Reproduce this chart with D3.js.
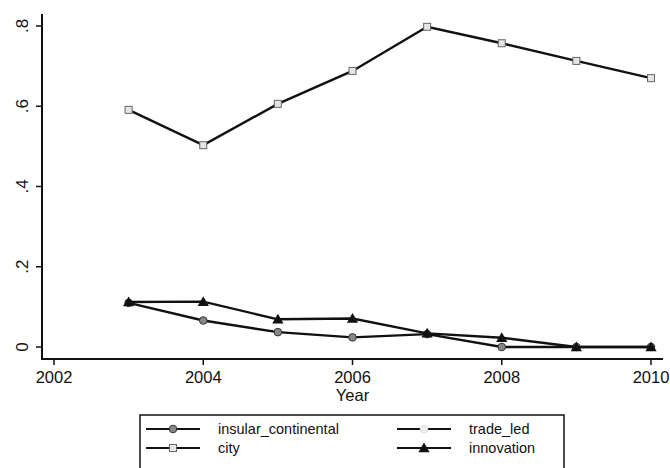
<!DOCTYPE html>
<html lang="en">
<head>
    <script src="https://d3js.org/d3.v7.min.js"></script>
</head>
<body style="margin:0;background:#fff;">
<style>
    text {
        font-family: "Liberation Sans", Arial, sans-serif;
        fill: #111;
    }
    .line {
        fill: none;
        stroke: #111;
        stroke-width: 2.4px;
    }
</style>
<svg></svg>
<script>
    const width = 670;
    const height = 468;
    const svg = d3.select('svg').attr('width', width).attr('height', height);

    // values
    const years = [2003, 2004, 2005, 2006, 2007, 2008, 2009, 2010];
    const insularContinental = [0.11, 0.066, 0.037, 0.024, 0.032, 0.0, 0.0, 0.0];
    const tradeLed = [null, null, null, null, null, null, null, null];
    const city = [0.591, 0.503, 0.606, 0.688, 0.798, 0.757, 0.713, 0.670];
    const innovation = [0.112, 0.113, 0.069, 0.071, 0.034, 0.023, 0.0, 0.0];

    const xTicks = [2002, 2004, 2006, 2008, 2010];
    const yTicks = [0, 0.2, 0.4, 0.6, 0.8];
    const yTickLabels = ['0', '.2', '.4', '.6', '.8'];

    const x = d3.scaleLinear().domain([2002, 2010]).range([54, 651]);
    const y = d3.scaleLinear().domain([0, 0.8]).range([347, 26]);

    // axes drawn by hand so they look like the stata output
    const xAxis = svg.append('g').attr('transform', 'translate(0,359)');
    xAxis.append('line').attr('x1', 42).attr('x2', 663).attr('stroke', '#111').attr('stroke-width', 2);
    xAxis.selectAll('line.tick').data(xTicks).enter().append('line')
        .attr('class', 'tick')
        .attr('x1', d => x(d)).attr('x2', d => x(d))
        .attr('y1', 0).attr('y2', 6)
        .attr('stroke', '#111').attr('stroke-width', 1.5);
    xAxis.selectAll('text').data(xTicks).enter().append('text')
        .attr('x', d => x(d)).attr('y', 24)
        .attr('text-anchor', 'middle')
        .attr('font-size', 16.5)
        .text(d => d);

    svg.append('text')
        .attr('x', x(2006)).attr('y', 401)
        .attr('text-anchor', 'middle')
        .attr('font-size', 16.5)
        .text('Year');

    const yAxis = svg.append('g').attr('transform', 'translate(42,0)');
    yAxis.append('line').attr('y1', 14).attr('y2', 360).attr('stroke', '#111').attr('stroke-width', 2);
    yAxis.selectAll('line.tick').data(yTicks).enter().append('line')
        .attr('class', 'tick')
        .attr('y1', d => y(d)).attr('y2', d => y(d))
        .attr('x1', 0).attr('x2', -6)
        .attr('stroke', '#111').attr('stroke-width', 1.5);
    yAxis.selectAll('text').data(yTicks).enter().append('text')
        .attr('transform', d => `translate(-14,${y(d)}) rotate(-90)`)
        .attr('text-anchor', 'middle')
        .attr('font-size', 17)
        .text((d, i) => yTickLabels[i]);

    const series = [
        {name: 'insular_continental', values: insularContinental, marker: 'circle', fill: '#888'},
        {name: 'trade_led', values: tradeLed, marker: 'circle', fill: '#eee'},
        {name: 'city', values: city, marker: 'square', fill: '#e4e4e4'},
        {name: 'innovation', values: innovation, marker: 'triangle', fill: '#111'}
    ];

    const line = d3.line()
        .defined(d => d.v !== null)
        .x(d => x(d.year))
        .y(d => y(d.v));

    const drawMarker = (g, type, fill, cx, cy) => {
        if (type === 'circle') {
            g.append('circle').attr('cx', cx).attr('cy', cy).attr('r', 3.8)
                .attr('fill', fill).attr('stroke', fill === '#eee' ? '#ddd' : '#333').attr('stroke-width', 1);
        } else if (type === 'square') {
            g.append('rect').attr('x', cx - 3.5).attr('y', cy - 3.5).attr('width', 7).attr('height', 7)
                .attr('fill', fill).attr('stroke', '#666').attr('stroke-width', 1);
        } else {
            g.append('path')
                .attr('d', d3.symbol().type(d3.symbolTriangle).size(55)())
                .attr('transform', `translate(${cx},${cy + 1})`)
                .attr('fill', fill);
        }
    };

    const plot = svg.append('g');
    series.forEach(s => {
        const pts = years.map((yr, i) => ({year: yr, v: s.values[i]}));
        plot.append('path').datum(pts).attr('class', 'line').attr('d', line);
        pts.filter(p => p.v !== null).forEach(p => drawMarker(plot, s.marker, s.fill, x(p.year), y(p.v)));
    });

    // legend
    const legend = svg.append('g');
    legend.append('rect')
        .attr('x', 140).attr('y', 415).attr('width', 424).attr('height', 70)
        .attr('fill', 'none').attr('stroke', '#111').attr('stroke-width', 1.5);

    const legendPos = [
        {lx: 146, ly: 429}, {lx: 397, ly: 429},
        {lx: 146, ly: 448}, {lx: 397, ly: 448}
    ];
    series.forEach((s, i) => {
        const p = legendPos[i];
        legend.append('line')
            .attr('x1', p.lx).attr('x2', p.lx + 54)
            .attr('y1', p.ly).attr('y2', p.ly)
            .attr('stroke', '#111').attr('stroke-width', 1.8);
        drawMarker(legend, s.marker, s.fill, p.lx + 27, p.ly);
        legend.append('text')
            .attr('x', p.lx + 72).attr('y', p.ly + 5)
            .attr('font-size', 14.5)
            .text(s.name);
    });
</script>
</body>
</html>
